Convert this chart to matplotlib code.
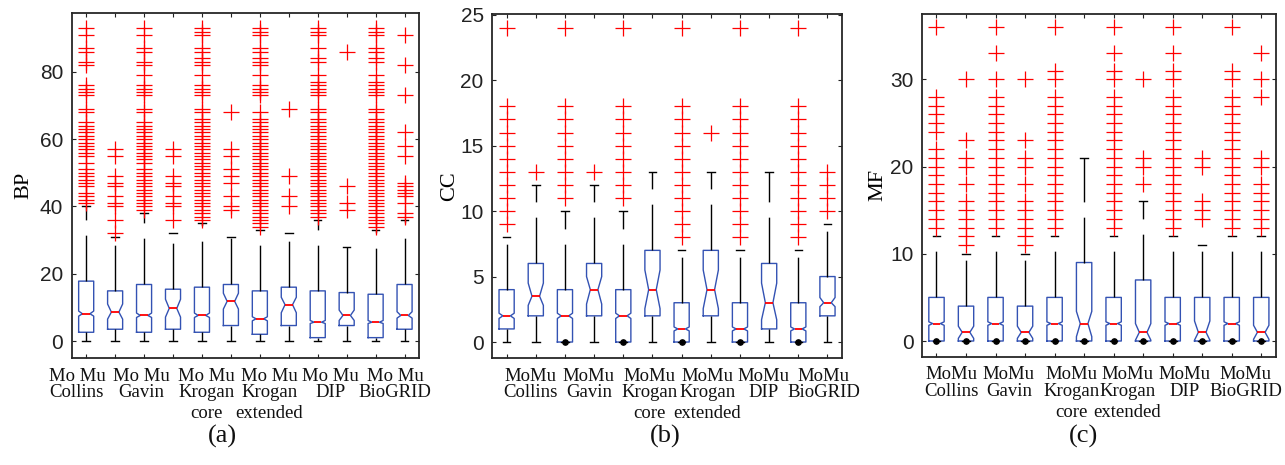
import matplotlib.pyplot as plt

plt.rcParams["font.family"] = "Liberation Sans"
plt.rcParams["lines.scale_dashes"] = True

POS = [1, 2, 3, 4, 5, 6, 7, 8, 9, 10, 11, 12]
GROUPS = [["Collins"], ["Gavin"], ["Krogan", "core"], ["Krogan", "extended"], ["DIP"], ["BioGRID"]]

# ---- (a) BP ----
bp_q1 = [2.6, 3.5, 2.6, 3.5, 2.6, 4.6, 2.0, 4.6, 1.0, 4.6, 1.0, 3.5]
bp_med = [8.1, 8.6, 7.6, 9.7, 7.6, 11.8, 6.6, 10.8, 5.6, 7.6, 5.6, 7.6]
bp_q3 = [17.8, 14.9, 16.8, 15.4, 16.0, 16.8, 14.9, 16.0, 14.9, 14.4, 13.9, 16.8]
bp_cilo = [7.4, 6.5, 7.0, 7.1, 7.0, 9.5, 6.0, 8.4, 5.2, 6.1, 5.2, 6.8]
bp_cihi = [8.9, 11.0, 8.3, 12.4, 8.3, 14.2, 7.2, 13.0, 6.1, 9.2, 6.1, 8.7]
bp_whislo = [0, 0, 0, 0, 0, 0, 0, 0, 0, 0, 0, 0]
bp_whishi = [40, 31, 38, 32, 35, 31, 33, 32, 36, 28, 33, 36]
bp_fliers = [
    [41, 42, 43, 44, 46, 47, 48, 49, 50, 51, 53, 55, 56, 57, 58, 59, 60, 61, 62, 63, 64, 65,
     68, 69, 73, 74, 75, 76, 82, 83, 86, 87, 91, 93],
    [32, 36, 40, 41, 43, 46, 47, 49, 55, 57],
    [39, 40, 41, 42, 43, 44, 45, 46, 47, 48, 49, 50, 51, 53, 54, 55, 56, 57, 58, 59, 60, 61,
     62, 63, 64, 65, 68, 69, 73, 74, 75, 76, 79, 82, 83, 86, 87, 91, 93],
    [36, 40, 41, 43, 46, 47, 49, 55, 57],
    [36, 37, 38, 39, 40, 41, 42, 43, 44, 45, 46, 47, 48, 49, 50, 51, 52, 53, 54, 55, 56, 57,
     58, 59, 60, 61, 62, 63, 64, 65, 66, 68, 69, 73, 74, 75, 76, 79, 82, 83, 84, 86, 87, 91,
     92, 93],
    [39, 40, 43, 47, 49, 51, 55, 57, 68],
    [34, 35, 36, 37, 38, 39, 40, 41, 42, 43, 44, 45, 46, 47, 48, 49, 50, 51, 52, 53, 54, 55,
     56, 57, 58, 59, 60, 61, 62, 63, 64, 65, 66, 68, 73, 74, 75, 76, 79, 82, 83, 84, 86, 87,
     91, 92, 93],
    [40, 43, 49, 69],
    [37, 38, 39, 40, 41, 42, 43, 44, 45, 46, 47, 48, 49, 50, 51, 52, 53, 54, 55, 56, 57, 58,
     59, 60, 61, 62, 63, 64, 65, 66, 68, 69, 73, 74, 75, 76, 77, 79, 83, 84, 87, 91, 92, 93],
    [39, 41, 46, 86],
    [34, 35, 36, 37, 38, 39, 40, 41, 42, 43, 44, 45, 46, 47, 48, 49, 50, 51, 52, 53, 54, 55,
     56, 57, 58, 59, 60, 61, 62, 63, 64, 65, 66, 68, 69, 73, 74, 75, 76, 77, 79, 83, 84, 86,
     87, 91, 92, 93],
    [37, 38, 41, 43, 44, 45, 46, 47, 55, 58, 62, 73, 82, 91],
]
bp_zero_dots = []

# ---- (b) CC ----
cc_q1 = [1, 2, 0, 2, 0, 2, 0, 2, 0, 1, 0, 2]
cc_med = [2, 3.5, 2, 4, 2, 4, 1, 4, 1, 3, 1, 3]
cc_q3 = [4, 6, 4, 6, 4, 7, 3, 7, 3, 6, 3, 5]
cc_cilo = [1.8, 2.8, 1.8, 2.9, 1.8, 2.55, 0.85, 2.55, 0.85, 1.7, 0.85, 2.7]
cc_cihi = [2.2, 4.5, 2.2, 5.0, 2.2, 5.5, 1.15, 5.5, 1.15, 4.5, 1.15, 3.4]
cc_whislo = [0, 0, 0, 0, 0, 0, 0, 0, 0, 0, 0, 0]
cc_whishi = [8, 12, 10, 12, 10, 13, 7, 13, 7, 13, 7, 9]
cc_fliers = [
    [9, 10, 11, 12, 13, 14, 15, 16, 17, 18, 24],
    [13],
    [11, 12, 13, 14, 15, 16, 17, 18, 24],
    [13],
    [11, 12, 13, 14, 15, 16, 17, 18, 24],
    [],
    [8, 9, 10, 11, 12, 13, 14, 15, 16, 17, 18, 24],
    [16],
    [8, 9, 10, 11, 12, 13, 14, 15, 16, 17, 18, 24],
    [],
    [8, 9, 10, 11, 12, 13, 14, 15, 16, 17, 18, 24],
    [10, 11, 12, 13],
]
cc_zero_dots = [3, 5, 7, 9, 11]

# ---- (c) MF ----
mf_q1 = [0, 0, 0, 0, 0, 0, 0, 0, 0, 0, 0, 0]
mf_med = [2, 1, 2, 1, 2, 2, 2, 1, 2, 1, 2, 1]
mf_q3 = [5, 4, 5, 4, 5, 9, 5, 7, 5, 5, 5, 5]
mf_cilo = [1.8, 0.3, 1.8, 0.3, 1.8, 0.5, 1.8, 0.1, 1.8, 0.1, 1.8, 0.2]
mf_cihi = [2.2, 1.7, 2.2, 1.7, 2.2, 3.4, 2.2, 2.0, 2.2, 2.3, 2.2, 1.8]
mf_whislo = [0, 0, 0, 0, 0, 0, 0, 0, 0, 0, 0, 0]
mf_whishi = [12, 10, 12, 10, 12, 21, 12, 16, 12, 11, 12, 12]
mf_fliers = [
    [13, 14, 15, 16, 17, 18, 19, 20, 21, 22, 24, 25, 26, 27, 28, 36],
    [11, 12, 13, 14, 15, 16, 18, 20, 21, 23, 30],
    [13, 14, 15, 16, 17, 18, 19, 20, 21, 22, 23, 24, 25, 26, 27, 28, 30, 33, 36],
    [11, 12, 13, 14, 15, 16, 18, 20, 21, 23, 30],
    [13, 14, 15, 16, 17, 18, 19, 20, 21, 22, 23, 24, 25, 26, 27, 28, 30, 31, 36],
    [],
    [13, 14, 15, 16, 17, 18, 19, 20, 21, 22, 23, 24, 25, 26, 27, 28, 30, 31, 33, 36],
    [18, 20, 21, 30],
    [13, 14, 15, 16, 17, 18, 19, 20, 21, 22, 23, 24, 25, 26, 27, 28, 30, 31, 33, 36],
    [14, 15, 16, 20, 21],
    [13, 14, 15, 16, 17, 18, 19, 20, 21, 22, 23, 24, 25, 26, 27, 28, 30, 31, 36],
    [13, 14, 15, 16, 17, 18, 20, 21, 28, 30, 33],
]
mf_zero_dots = [1, 2, 3, 4, 5, 6, 7, 8, 9, 10, 11, 12]

SERIF = "Liberation Serif"
BOX_BLUE = "#3352b3"


def make_stats(q1, med, q3, cilo, cihi, lo, hi, fliers):
    return [
        dict(q1=a, med=m, q3=b, cilo=c0, cihi=c1, whislo=w0, whishi=w1, fliers=f)
        for a, m, b, c0, c1, w0, w1, f in zip(q1, med, q3, cilo, cihi, lo, hi, fliers)
    ]


def draw_panel(ax, stats, dots, ylim, yticks, ylabel, label_x, pair_text, group_x):
    ax.bxp(
        stats,
        positions=POS,
        widths=0.52,
        shownotches=True,
        showfliers=True,
        manage_ticks=False,
        boxprops=dict(color=BOX_BLUE, linewidth=1.0),
        medianprops=dict(color="red", linewidth=1.3),
        whiskerprops=dict(color="black", linewidth=1.0, linestyle=(0, (33, 11))),
        capprops=dict(color="black", linewidth=1.0),
        flierprops=dict(marker="+", markeredgecolor="red", markersize=11,
                        markeredgewidth=0.9, linestyle="none"),
    )
    if dots:
        ax.plot(dots, [0] * len(dots), "o", color="black", markersize=3.8, zorder=4)

    ax.set_xlim(0.5, 12.5)
    ax.set_ylim(*ylim)
    ax.set_xticks(POS)
    ax.set_xticklabels([])
    ax.set_yticks(yticks)
    ax.tick_params(direction="in", top=True, right=True, length=3, width=0.8,
                   labelsize=15, pad=6, colors="#222222")
    for sp in ax.spines.values():
        sp.set_color("#262626")
        sp.set_linewidth(1.3)

    ax.set_ylabel(ylabel, family=SERIF, fontsize=16, va="center")
    ax.yaxis.set_label_coords(label_x, 0.5)

    # two/three line group captions under each Mo/Mu pair
    offsets = [16.2, 28.1, 43.2]
    for gx, names in zip(group_x, GROUPS):
        for line, off in zip([pair_text] + names, offsets):
            ax.annotate(line, xy=(gx, 0), xycoords=("data", "axes fraction"),
                        xytext=(0, -off), textcoords="offset points",
                        ha="center", va="baseline", family=SERIF, fontsize=13.5,
                        color="#111111", annotation_clip=False)


fig = plt.figure(figsize=(12.85, 4.65), dpi=100, facecolor="white")

ax_a = fig.add_axes([0.0558, 0.2294, 0.2703, 0.7419])
ax_b = fig.add_axes([0.3829, 0.2301, 0.2724, 0.7398])
ax_c = fig.add_axes([0.7173, 0.2329, 0.2757, 0.7370])

draw_panel(ax_a, make_stats(bp_q1, bp_med, bp_q3, bp_cilo, bp_cihi, bp_whislo, bp_whishi, bp_fliers),
           bp_zero_dots, (-5.15, 97.4), [0, 20, 40, 60, 80], "BP", -0.137, "Mo Mu",
           [0.68, 2.90, 5.15, 7.33, 9.43, 11.68])
draw_panel(ax_b, make_stats(cc_q1, cc_med, cc_q3, cc_cilo, cc_cihi, cc_whislo, cc_whishi, cc_fliers),
           cc_zero_dots, (-1.22, 25.05), [0, 5, 10, 15, 20, 25], "CC", -0.120, "MoMu",
           [1.82, 3.82, 5.91, 7.88, 9.82, 11.86])
draw_panel(ax_c, make_stats(mf_q1, mf_med, mf_q3, mf_cilo, mf_cihi, mf_whislo, mf_whishi, mf_fliers),
           mf_zero_dots, (-1.8, 37.5), [0, 10, 20, 30], "MF", -0.123, "MoMu",
           [1.50, 3.45, 5.56, 7.46, 9.41, 11.48])

for x, tag in zip([222.6, 665, 1083], ["(a)", "(b)", "(c)"]):
    fig.text(x / 1285, (465 - 436) / 465, tag, ha="center", va="center",
             family=SERIF, fontsize=19, color="#111111")

fig.savefig("out.png", dpi=100, facecolor="white")
